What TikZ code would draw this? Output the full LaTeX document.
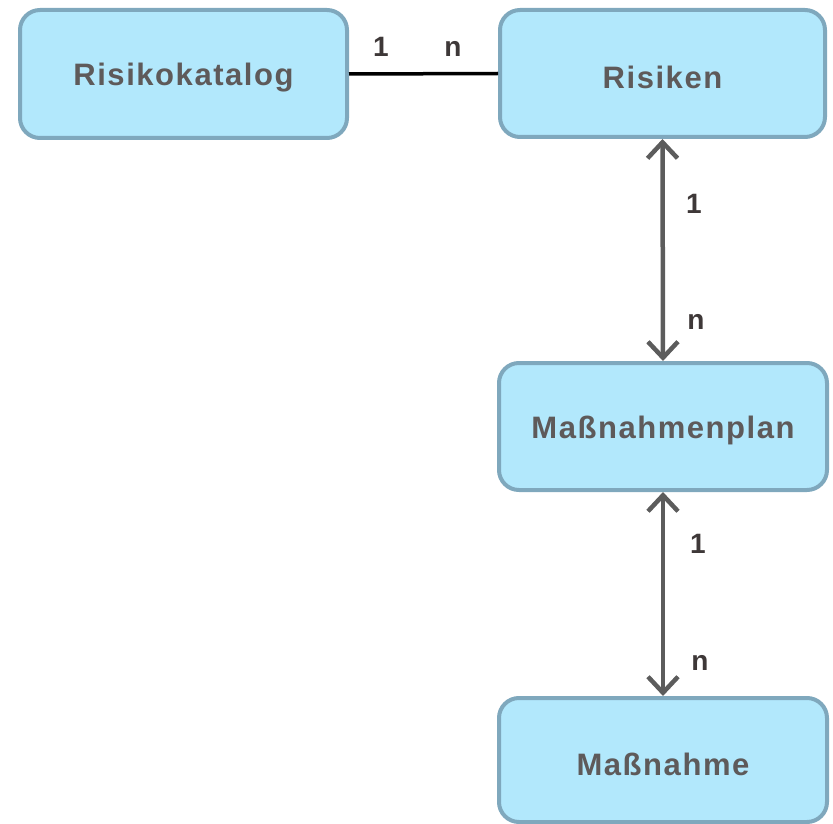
\documentclass[tikz,border=0pt]{standalone}
\usepackage{fontspec}
\setmainfont{Liberation Sans}
\newfontfamily\boxfont[LetterSpace=5]{Liberation Sans}
\usetikzlibrary{arrows.meta}
\definecolor{boxfill}{HTML}{B2E8FC}
\definecolor{boxline}{HTML}{7FA8BD}
\definecolor{txtgray}{HTML}{5E5A5A}
\definecolor{arrgray}{HTML}{5C5C5C}
\definecolor{lblcol}{HTML}{3E3838}
\begin{document}
\begin{tikzpicture}[x=1pt,y=-1pt,
  entity/.style={draw=boxline, fill=boxfill, line width=4pt, rounded corners=20pt,
    inner sep=0pt, font=\boxfont\fontsize{31}{36}\selectfont\bfseries, text=txtgray},
  txt/.style={inner sep=0pt, font=\boxfont\fontsize{31}{36}\selectfont\bfseries, text=txtgray},
  rel/.style={draw=arrgray, line width=4.5pt,
    {Straight Barb[length=16pt,width=30pt,line width=4.5pt]}-{Straight Barb[length=16pt,width=30pt,line width=4.5pt]}},
  lbl/.style={font=\fontsize{28}{32}\selectfont\bfseries, text=lblcol, inner sep=0pt}]
\useasboundingbox (0,0) rectangle (833,824);
\node[entity, minimum width=327pt, minimum height=128pt] (kat) at (183.5,74) {};
\node[entity, minimum width=325pt, minimum height=127pt] (ris) at (662.5,73.5) {};
\node[entity, minimum width=328pt, minimum height=127pt] (plan) at (663,426.5) {};
\node[entity, minimum width=328pt, minimum height=124pt] (mass) at (663,760) {};
\node[txt] (tkat) at ([yshift=-4pt]kat.center) {Risikokatalog};
\node[txt] (tris) at ([yshift=-4pt]ris.center) {Risiken};
\node[txt] (tplan) at ([yshift=-4pt]plan.center) {Maßnahmenplan};
\node[txt] (tmass) at ([yshift=-4pt]mass.center) {Maßnahme};
\draw[black, line width=3.5pt] (kat.east) -- (ris.west);
\draw[rel] (ris.south) -- (plan.north);
\draw[rel] (plan.south) -- (mass.north);
\node[lbl] (l1) at (381,47) {1};
\node[lbl] (l2) at (453,49) {n};
\node[lbl] (l3) at (694,204) {1};
\node[lbl] (l4) at (696,322) {n};
\node[lbl] (l5) at (698,544) {1};
\node[lbl] (l6) at (700,663) {n};
\end{tikzpicture}
\end{document}
